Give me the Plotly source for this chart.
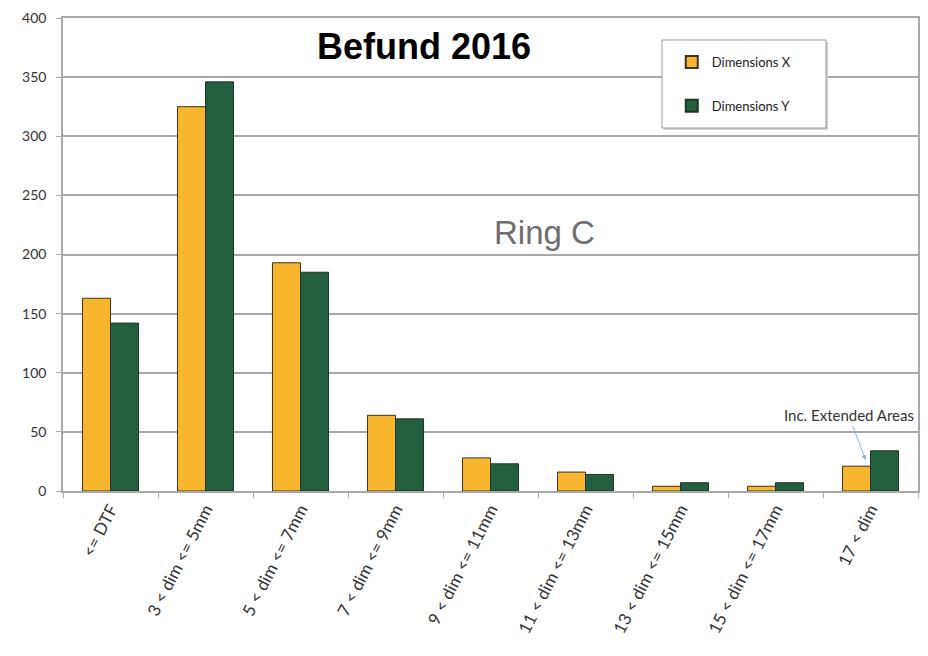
import plotly.graph_objects as go

categories = ["<= DTF", "3 < dim <= 5mm", "5 < dim <= 7mm", "7 < dim <= 9mm",
              "9 < dim <= 11mm", "11 < dim <= 13mm", "13 < dim <= 15mm",
              "15 < dim <= 17mm", "17 < dim"]
dim_x = [163, 325, 193, 64, 28, 16, 4, 4, 21]
dim_y = [142, 346, 185, 61, 23, 14, 7, 7, 34]
series_names = ["Dimensions X", "Dimensions Y"]
y_ticks = [0, 50, 100, 150, 200, 250, 300, 350, 400]

YELLOW = "#F8B62F"
GREEN = "#235F3E"
GRID = "#a8a8a8"

fig = go.Figure()
fig.add_trace(go.Bar(x=categories, y=dim_x, name=series_names[0], legendgroup="a",
                     marker=dict(color=YELLOW, line=dict(color="#3a3320", width=1))))
fig.add_trace(go.Bar(x=categories, y=dim_y, name=series_names[1], legendgroup="b",
                     marker=dict(color=GREEN, line=dict(color="#1f3326", width=1))))

fig.update_layout(
    width=928, height=656,
    margin=dict(l=55, r=18, t=10, b=173, autoexpand=False),
    plot_bgcolor="white", paper_bgcolor="white",
    barmode="group", bargap=0.41, bargroupgap=0,
    font=dict(family="Lato, Liberation Sans, sans-serif", color="#333333"),
    showlegend=True,
    legend=dict(x=0.712, y=0.9387, xanchor="left", yanchor="top",
                bgcolor="rgba(0,0,0,0)", borderwidth=0,
                font=dict(size=13, color="#222222"), tracegroupgap=24,
                itemsizing="constant"),
)
fig.update_yaxes(range=[0, 400], tickvals=y_ticks, showgrid=True, gridcolor=GRID,
                 gridwidth=1.5, showline=True, linecolor=GRID, linewidth=1.5,
                 mirror=True, ticks="outside", ticklen=5, tickcolor=GRID,
                 ticklabelstandoff=7, ticklabeloverflow="allow",
                 tickfont=dict(size=14, color="#333333"), zeroline=False,
                 automargin=False)
fig.update_xaxes(tickangle=-63, tickson="boundaries", ticks="outside", ticklen=5,
                 tickcolor=GRID, showline=True, linecolor=GRID, linewidth=1.5,
                 mirror=True, tickfont=dict(size=17, color="#333333"),
                 ticklabeloverflow="allow", automargin=False)

# legend frame with a light shadow
fig.add_shape(type="rect", xref="paper", yref="paper",
              x0=0.7029, x1=0.8947, y0=0.7632, y1=0.9493,
              line=dict(width=0), fillcolor="#cfcfcf", layer="above")
fig.add_shape(type="rect", xref="paper", yref="paper",
              x0=0.7006, x1=0.8924, y0=0.7674, y1=0.9535,
              line=dict(color="#9a9a9a", width=1), fillcolor="white", layer="above")

fig.add_annotation(text="<b>Befund 2016</b>", xref="paper", yref="paper",
                   x=0.422, y=0.9387, xanchor="center", yanchor="middle",
                   showarrow=False,
                   font=dict(family="Liberation Sans, Arial", size=36, color="black"))
fig.add_annotation(text="Ring C", x=4.57, y=219, xanchor="center", yanchor="middle",
                   showarrow=False,
                   font=dict(family="Liberation Sans, Arial", size=33, color="#6e6e6e"))
fig.add_annotation(text="Inc. Extended Areas", x=7.95, y=26, ax=-17, ay=-45,
                   showarrow=True, arrowhead=2, arrowsize=1, arrowwidth=1,
                   arrowcolor="#8fb0e0",
                   font=dict(size=15, color="#333333"))

fig.write_html("out.html")
